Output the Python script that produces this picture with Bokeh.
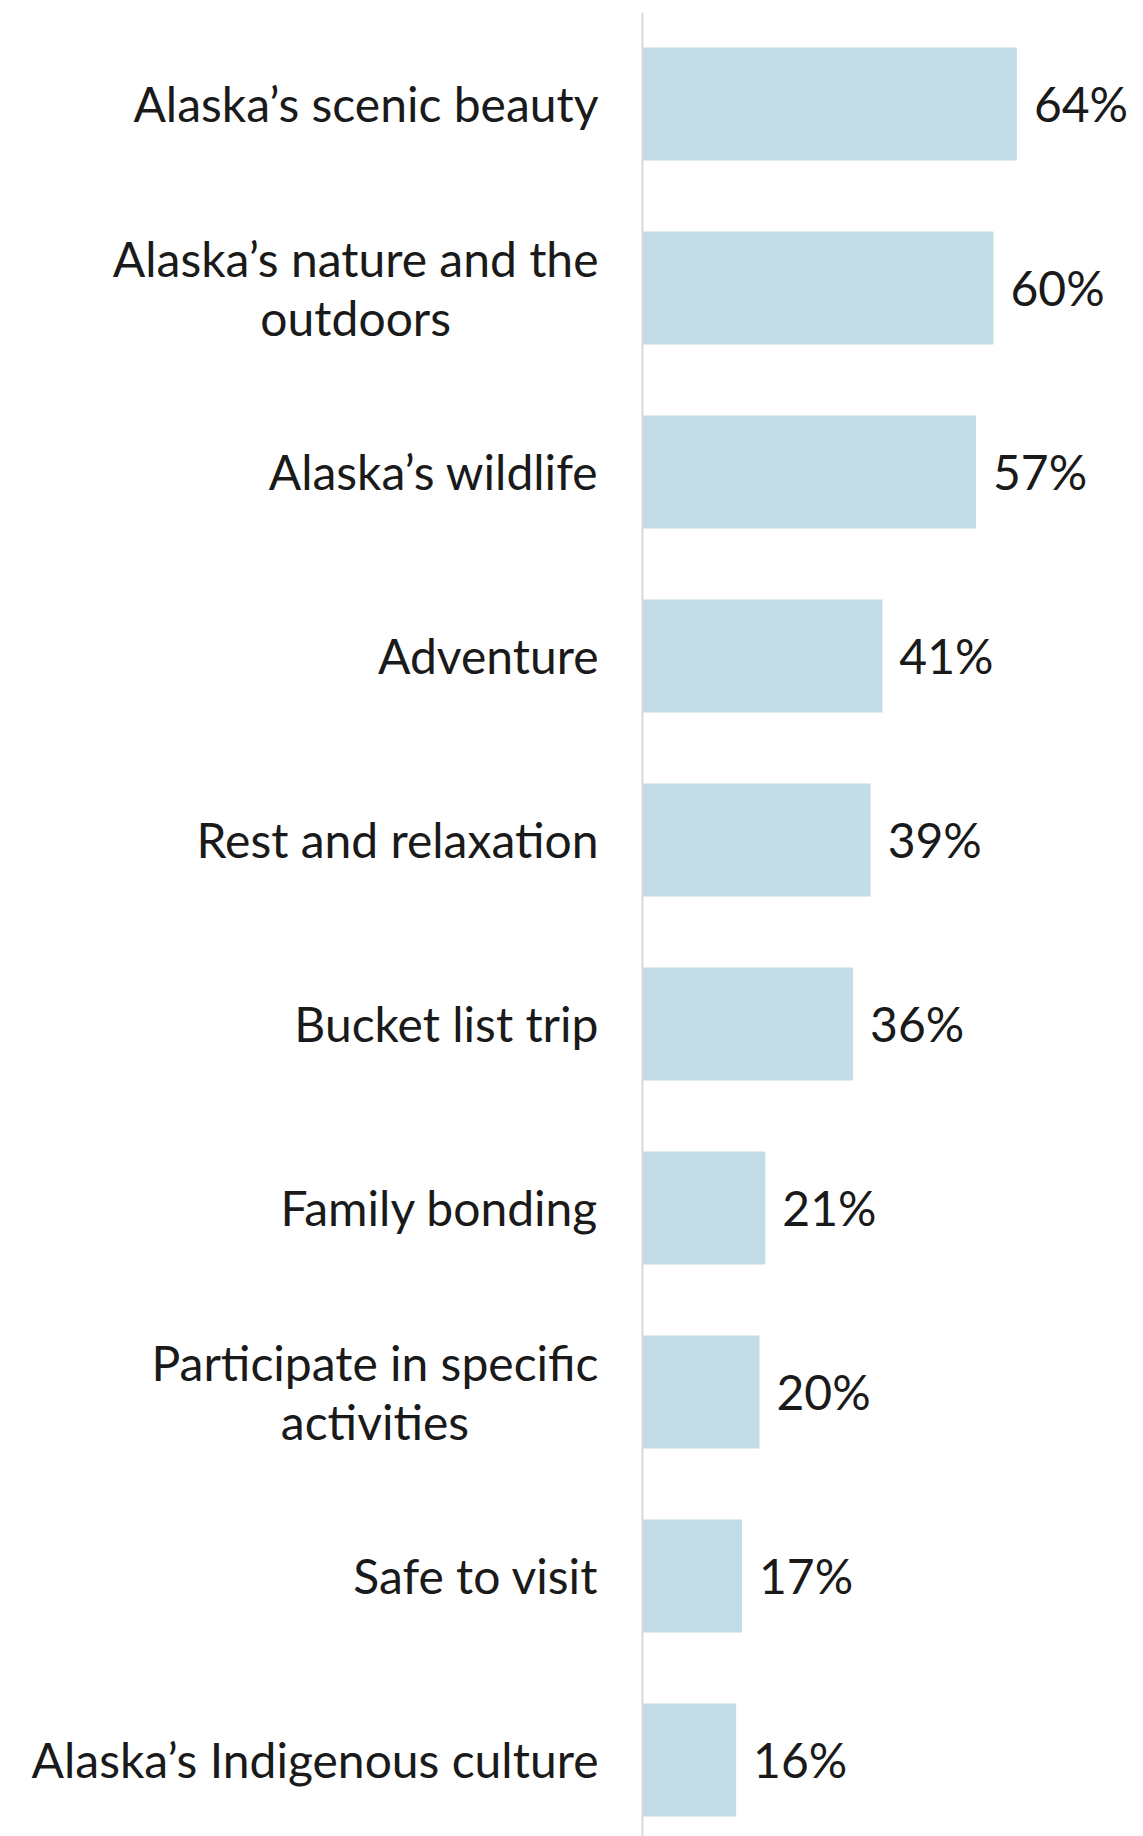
from bokeh.plotting import figure
from bokeh.models import Range1d, ColumnDataSource, Span
from bokeh.embed import file_html
from bokeh.resources import INLINE
from bokeh.core.properties import value

categories = [
    "Alaska’s scenic beauty",
    "Alaska’s nature and the\noutdoors",
    "Alaska’s wildlife",
    "Adventure",
    "Rest and relaxation",
    "Bucket list trip",
    "Family bonding",
    "Participate in specific\nactivities",
    "Safe to visit",
    "Alaska’s Indigenous culture",
]
percent = [64, 60, 57, 41, 39, 36, 21, 20, 17, 16]
pct_labels = [f"{v}%" for v in percent]

FONT = "Lato"
TEXT_COLOR = "#1a1a1a"
BAR_COLOR = "#c2dde6"
STANDOFF = 44

pos = list(range(len(categories)))
src = ColumnDataSource(dict(y=pos, v=percent, lab=pct_labels, cat=categories,
                            zero=[0] * len(pos)))

p = figure(
    width=1143, height=1836,
    x_range=Range1d(-109.74, 85.64),
    y_range=Range1d(9.416, -0.497),
    output_backend="svg", toolbar_location=None,
    x_axis_location=None, y_axis_location=None,
    min_border_left=0, min_border_right=0, min_border_top=12, min_border_bottom=0,
)
p.outline_line_color = None
p.xgrid.visible = False
p.ygrid.visible = False

# category axis line at zero
p.add_layout(Span(location=0, dimension="height", line_color="#d9d9d9", line_width=2))

p.hbar(y="y", right="v", left=0, height=0.614, source=src,
       fill_color=BAR_COLOR, line_color=None)

# value labels
p.text(x="v", y="y", text="lab", source=src, x_offset=17,
       text_font=value(FONT), text_font_size="48px", text_color=TEXT_COLOR,
       text_baseline="middle", text_align="left")

# category labels (multi-line lines centred within a right-anchored block)
p.text(x="zero", y="y", text="cat", source=src, x_offset=-STANDOFF,
       anchor="center_right", text_align="center", text_baseline="middle",
       text_font=value(FONT), text_font_size="48px", text_color=TEXT_COLOR,
       text_line_height=1.05)

open("out.html", "w").write(file_html(p, INLINE))
